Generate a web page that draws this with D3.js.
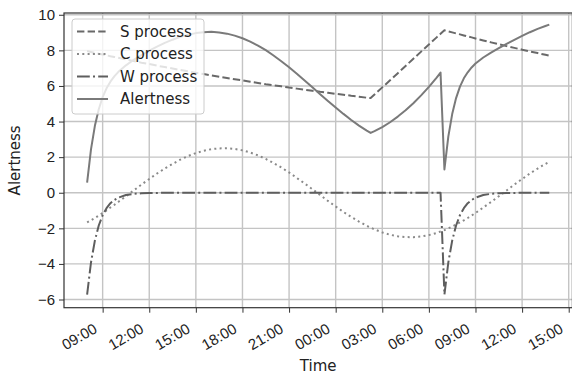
<!DOCTYPE html>
<html><head><meta charset="utf-8">
<script src="https://cdn.jsdelivr.net/npm/d3@7"></script>
<style>body{margin:0;background:#fff;} svg{display:block;font-family:"DejaVu Sans",sans-serif;}</style>
</head><body><svg id="chart" width="572" height="376"></svg>
<script>
// clock hours counted from midnight of day 1
const hours = [8, 8.25, 8.5, 8.75, 9, 9.25, 9.5, 9.75, 10, 10.5, 11, 11.5, 12, 12.5, 13, 13.5, 14, 14.5, 15, 15.5, 16, 16.5, 17, 17.5, 18, 18.5, 19, 19.5, 20, 20.5, 21, 21.5, 22, 22.5, 23, 23.5, 24, 24.5, 25, 25.5, 26, 26.25,
  26.5, 27, 27.5, 28, 28.5, 29, 29.5, 30, 30.5, 30.75,
  31, 31.25, 31.5, 31.75, 32, 32.25, 32.5, 32.75, 33, 33.5, 34, 34.5, 35, 35.5, 36, 36.5, 37, 37.5, 37.75];
const sProcess = [7.96, 7.91, 7.86, 7.81, 7.77, 7.72, 7.67, 7.63, 7.58, 7.49, 7.40, 7.31, 7.23, 7.14, 7.06, 6.98, 6.90, 6.82, 6.74, 6.67, 6.59, 6.52, 6.45, 6.38, 6.31, 6.24, 6.17, 6.10, 6.04, 5.98, 5.91, 5.85, 5.79, 5.73, 5.67, 5.62, 5.56, 5.51, 5.45, 5.40, 5.34, 5.32,
  5.52, 5.92, 6.32, 6.72, 7.12, 7.53, 7.93, 8.33, 8.73, 8.93,
  9.13, 9.07, 9.01, 8.95, 8.90, 8.84, 8.78, 8.73, 8.67, 8.56, 8.45, 8.35, 8.24, 8.14, 8.04, 7.94, 7.85, 7.75, 7.70];
const cProcess = [-1.67, -1.55, -1.42, -1.28, -1.14, -0.99, -0.83, -0.68, -0.52, -0.20, 0.13, 0.46, 0.77, 1.08, 1.36, 1.62, 1.86, 2.06, 2.23, 2.36, 2.45, 2.49, 2.50, 2.46, 2.38, 2.26, 2.10, 1.90, 1.67, 1.42, 1.14, 0.83, 0.52, 0.20, -0.13, -0.46, -0.77, -1.08, -1.36, -1.62, -1.86, -1.96,
  -2.06, -2.23, -2.36, -2.45, -2.49, -2.50, -2.46, -2.38, -2.26, -2.18,
  -2.10, -2.00, -1.90, -1.79, -1.67, -1.55, -1.42, -1.28, -1.14, -0.83, -0.52, -0.20, 0.13, 0.46, 0.77, 1.08, 1.36, 1.62, 1.74];
const wProcess = [-5.72, -3.92, -2.69, -1.84, -1.26, -0.87, -0.59, -0.41, -0.28, -0.13, -0.06, -0.03, -0.01, -0.01, 0, 0, 0, 0, 0, 0, 0, 0, 0, 0, 0, 0, 0, 0, 0, 0, 0, 0, 0, 0, 0, 0, 0, 0, 0, 0, 0, 0,
  0, 0, 0, 0, 0, 0, 0, 0, 0, 0,
  -5.72, -3.92, -2.69, -1.84, -1.26, -0.87, -0.59, -0.41, -0.28, -0.13, -0.06, -0.03, -0.01, -0.01, 0, 0, 0, 0, 0];
const alertness = [0.57, 2.44, 3.76, 4.69, 5.37, 5.87, 6.24, 6.54, 6.78, 7.16, 7.47, 7.74, 7.99, 8.21, 8.42, 8.60, 8.76, 8.88, 8.97, 9.02, 9.04, 9.01, 8.94, 8.83, 8.68, 8.49, 8.27, 8.01, 7.71, 7.39, 7.05, 6.69, 6.31, 5.93, 5.54, 5.16, 4.79, 4.43, 4.09, 3.77, 3.49, 3.36,
  3.46, 3.69, 3.96, 4.28, 4.63, 5.03, 5.47, 5.95, 6.47, 6.75,
  1.31, 3.15, 4.42, 5.32, 5.96, 6.43, 6.77, 7.04, 7.26, 7.60, 7.87, 8.12, 8.36, 8.59, 8.81, 9.02, 9.21, 9.37, 9.45];
const seriesNames = ["S process", "C process", "W process", "Alertness"];
const xTickHours = [9, 12, 15, 18, 21, 24, 27, 30, 33, 36, 39];
const xTickLabels = ["09:00", "12:00", "15:00", "18:00", "21:00", "00:00", "03:00", "06:00", "09:00", "12:00", "15:00"];
const yTicks = [-6, -4, -2, 0, 2, 4, 6, 8, 10];
const yTickLabels = ["\u22126", "\u22124", "\u22122", "0", "2", "4", "6", "8", "10"];

const base = new Date(2021, 0, 1, 0, 0).getTime();
const toDate = h => new Date(base + h * 3600e3);
const L = 64, T = 13, R = 572.4, B = 307.7;
const FS = 15, TXT = "#222";

const x = d3.scaleTime().domain([toDate(6.5125), toDate(39.2375)]).range([L, R]);
const y = d3.scaleLinear().domain([-6.46, 10.1]).range([B, T]);

const svg = d3.select("#chart");
svg.append("defs").append("clipPath").attr("id", "clip")
  .append("rect").attr("x", L).attr("y", T).attr("width", R - L).attr("height", B - T);

// grid
const grid = svg.append("g");
xTickHours.forEach(h => grid.append("line")
  .attr("x1", x(toDate(h))).attr("x2", x(toDate(h))).attr("y1", T).attr("y2", B)
  .attr("stroke", "#c4c4c4").attr("stroke-width", 1.4));
yTicks.forEach(v => grid.append("line")
  .attr("x1", L).attr("x2", R).attr("y1", y(v)).attr("y2", y(v))
  .attr("stroke", "#c4c4c4").attr("stroke-width", 1.4));

const series = [
  {name: seriesNames[0], vals: sProcess, color: "#696969", dash: "7.4,3.2", w: 2},
  {name: seriesNames[1], vals: cProcess, color: "#8a8a8a", dash: "2,3.3", w: 2},
  {name: seriesNames[2], vals: wProcess, color: "#5e5e5e", dash: "12.8,3.2,2,3.2", w: 2},
  {name: seriesNames[3], vals: alertness, color: "#7a7a7a", dash: null, w: 2}
];
const lines = svg.append("g").attr("clip-path", "url(#clip)");
series.forEach(s => {
  const line = d3.line().x((d, i) => x(toDate(hours[i]))).y(d => y(d));
  lines.append("path").datum(s.vals).attr("d", line)
    .attr("fill", "none").attr("stroke", s.color).attr("stroke-width", s.w)
    .attr("stroke-dasharray", s.dash).attr("stroke-linejoin", "round");
});

// axes
const xAxis = d3.axisBottom(x).tickValues(xTickHours.map(toDate))
  .tickFormat((d, i) => xTickLabels[i]).tickSize(5).tickSizeOuter(0);
const gx = svg.append("g").attr("transform", `translate(0,${B})`).call(xAxis);
gx.select(".domain").remove();
gx.selectAll(".tick line").attr("stroke", "#333").attr("stroke-width", 1);
gx.selectAll(".tick text")
  .attr("font-size", FS).attr("fill", TXT)
  .attr("text-anchor", "end").attr("y", 0).attr("dy", null)
  .attr("transform", "translate(-5,24) rotate(-30)");

const yAxis = d3.axisLeft(y).tickValues(yTicks).tickFormat((d, i) => yTickLabels[i]).tickSize(5).tickSizeOuter(0);
const gy = svg.append("g").attr("transform", `translate(${L},0)`).call(yAxis);
gy.select(".domain").remove();
gy.selectAll(".tick line").attr("stroke", "#333");
gy.selectAll(".tick text").attr("font-size", FS).attr("fill", TXT).attr("x", -9);

// frame
svg.append("rect").attr("x", L).attr("y", T).attr("width", R - L).attr("height", B - T)
  .attr("fill", "none").attr("stroke", "#333").attr("stroke-width", 1.2);

svg.append("text").attr("x", (L + R) / 2).attr("y", 371).attr("text-anchor", "middle")
  .attr("font-size", FS).attr("fill", TXT).text("Time");
svg.append("text").attr("transform", `translate(20,${(T + B) / 2}) rotate(-90)`).attr("text-anchor", "middle")
  .attr("font-size", FS).attr("fill", TXT).text("Alertness");

// legend
const lg = svg.append("g");
lg.append("rect").attr("x", 72).attr("y", 19).attr("width", 132).attr("height", 95).attr("rx", 3)
  .attr("fill", "#fff").attr("fill-opacity", 0.8).attr("stroke", "#cccccc");
series.forEach((s, i) => {
  const cy = 31.5 + i * 22.5;
  lg.append("line").attr("x1", 77).attr("x2", 108).attr("y1", cy).attr("y2", cy)
    .attr("stroke", s.color).attr("stroke-width", s.w).attr("stroke-dasharray", s.dash);
  lg.append("text").attr("x", 120).attr("y", cy).attr("dy", "0.36em")
    .attr("font-size", FS).attr("fill", TXT).text(s.name);
});
</script></body></html>
